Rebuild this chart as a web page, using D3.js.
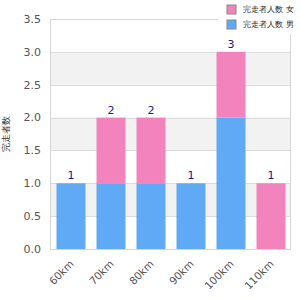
<!DOCTYPE html>
<html>
<head>
<meta charset="utf-8">
<script src="https://cdn.jsdelivr.net/npm/d3@7"></script>
<style>
  body { margin: 0; background: #fff; }
  svg { display: block; font-family: "DejaVu Sans", sans-serif; }
</style>
</head>
<body>
<div id="chart"></div>
<script>
const categories = ['60km', '70km', '80km', '90km', '100km', '110km']
const seriesNames = ['完走者人数 男', '完走者人数 女']
const male = [1, 1, 1, 1, 2, 0]
const female = [0, 1, 1, 0, 1, 1]
const yTicks = [0, 0.5, 1, 1.5, 2, 2.5, 3, 3.5]
const yTitle = '完走者数'

const colors = { male: '#60a9f5', female: '#f383bd' }

const W = 300
const H = 300
const plot = { left: 50, right: 290, top: 19, bottom: 249 }

const svg = d3.select('#chart').append('svg')
  .attr('width', W)
  .attr('height', H)

const x = d3.scaleBand()
  .domain(categories)
  .range([plot.left + 1, plot.right + 1])
  .paddingInner(0.275)
  .paddingOuter(0.1375)

const y = d3.scaleLinear().domain([0, 3.5]).range([plot.bottom, plot.top])

// alternating bands
const bands = yTicks.filter((d, i) => i % 2 === 1 && d < 3.5)
svg.append('g').selectAll('rect').data(bands).enter()
  .append('rect')
  .attr('x', plot.left)
  .attr('width', plot.right - plot.left)
  .attr('y', d => y(d + 0.5))
  .attr('height', d => y(d) - y(d + 0.5))
  .attr('fill', '#f2f2f2')

// grid
svg.append('g').selectAll('line').data(yTicks).enter()
  .append('line')
  .attr('x1', plot.left).attr('x2', plot.right)
  .attr('y1', d => Math.round(y(d)) + 0.5).attr('y2', d => Math.round(y(d)) + 0.5)
  .attr('stroke', '#dcdcdc')

svg.append('rect')
  .attr('x', plot.left + 0.5).attr('y', plot.top + 0.5)
  .attr('width', plot.right - plot.left).attr('height', plot.bottom - plot.top)
  .attr('fill', 'none').attr('stroke', '#d6d6d6')

// y axis labels
svg.append('g').selectAll('text').data(yTicks).enter()
  .append('text')
  .attr('x', 41)
  .attr('y', d => y(d))
  .attr('dy', '0.35em')
  .attr('text-anchor', 'end')
  .attr('font-size', 11)
  .attr('fill', '#555')
  .text(d3.format('.1f'))

svg.append('text')
  .attr('transform', `translate(6,${(plot.top + plot.bottom) / 2}) rotate(-90)`)
  .attr('text-anchor', 'middle')
  .attr('dy', '0.35em')
  .attr('font-size', 9)
  .attr('fill', '#333')
  .text(yTitle)

// stacked bars
const rows = categories.map((c, i) => ({ cat: c, male: male[i], female: female[i] }))
const stack = d3.stack().keys(['male', 'female'])(rows)

svg.append('g').selectAll('g').data(stack).enter()
  .append('g')
  .attr('fill', d => colors[d.key])
  .selectAll('rect').data(d => d).enter()
  .append('rect')
  .attr('x', d => x(d.data.cat))
  .attr('width', x.bandwidth())
  .attr('y', d => y(d[1]))
  .attr('height', d => y(d[0]) - y(d[1]))

// totals
svg.append('g').selectAll('text').data(rows).enter()
  .append('text')
  .attr('x', d => x(d.cat) + x.bandwidth() / 2)
  .attr('y', d => y(d.male + d.female) - 4)
  .attr('text-anchor', 'middle')
  .attr('font-size', 11)
  .attr('fill', '#1a1a8a')
  .text(d => d.male + d.female)

// x labels
svg.append('g').selectAll('text').data(categories).enter()
  .append('text')
  .attr('transform', d => `translate(${x(d) + x.bandwidth() / 2 + 1},${plot.bottom + 13}) rotate(-45)`)
  .attr('text-anchor', 'end')
  .attr('dy', '0.35em')
  .attr('font-size', 10.5)
  .attr('fill', '#555')
  .text(d => d)

// legend
const legend = svg.append('g')
legend.append('rect')
  .attr('x', 218).attr('y', 0).attr('width', 82).attr('height', 34)
  .attr('fill', '#fff')
const legendItems = [
  { name: seriesNames[1], color: colors.female },
  { name: seriesNames[0], color: colors.male }
]
const li = legend.selectAll('g').data(legendItems).enter()
  .append('g')
  .attr('transform', (d, i) => `translate(227,${5 + i * 15})`)
li.append('rect')
  .attr('width', 9).attr('height', 9)
  .attr('fill', d => d.color)
  .attr('stroke', '#888')
li.append('text')
  .attr('x', 16).attr('y', 4.5).attr('dy', '0.35em')
  .attr('font-size', 8)
  .attr('fill', '#222')
  .text(d => d.name)
</script>
</body>
</html>
